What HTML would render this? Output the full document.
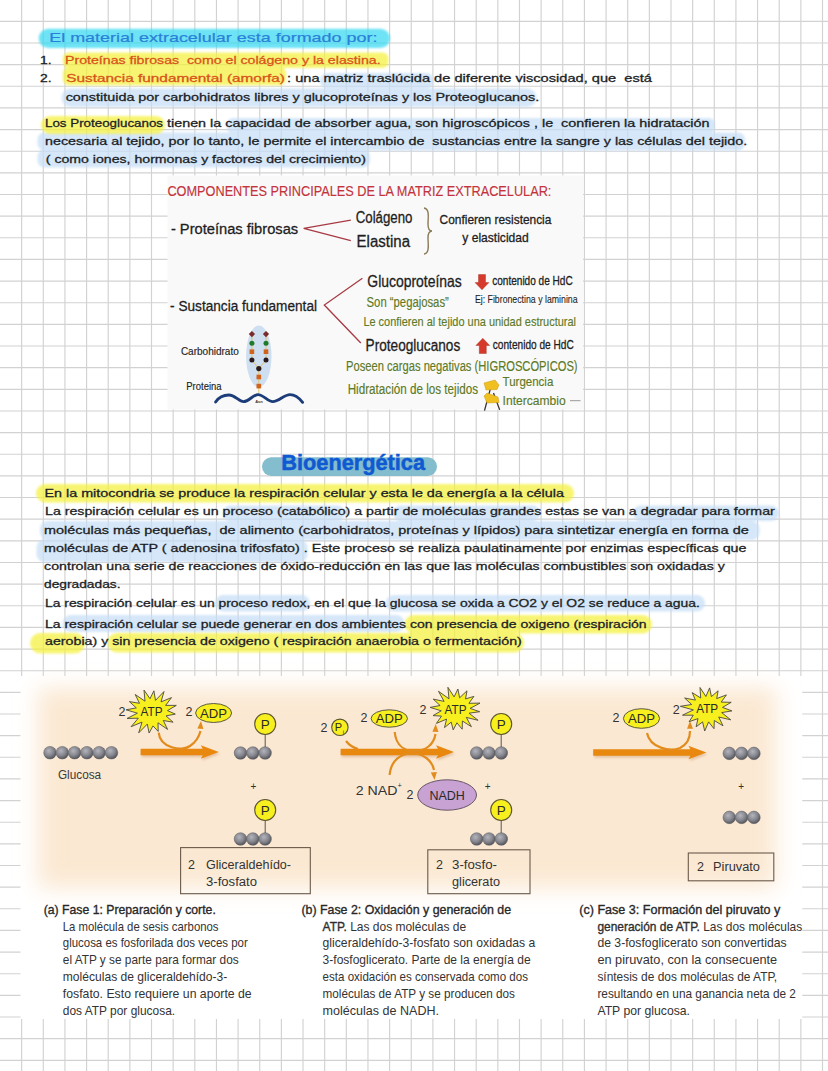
<!DOCTYPE html>
<html><head><meta charset="utf-8"><title>Notes</title>
<style>html,body{margin:0;padding:0;background:#fff;}body{width:828px;height:1071px;overflow:hidden;font-family:"Liberation Sans",sans-serif;}svg{display:block;}</style>
</head><body>
<svg width="828" height="1071" viewBox="0 0 828 1071"><path d="M21.64 0V1071M43.29 0V1071M64.94 0V1071M86.58 0V1071M108.22 0V1071M129.87 0V1071M151.51 0V1071M173.16 0V1071M194.81 0V1071M216.45 0V1071M238.09 0V1071M259.74 0V1071M281.38 0V1071M303.03 0V1071M324.68 0V1071M346.32 0V1071M367.96 0V1071M389.61 0V1071M411.25 0V1071M432.90 0V1071M454.55 0V1071M476.19 0V1071M497.83 0V1071M519.48 0V1071M541.12 0V1071M562.77 0V1071M584.41 0V1071M606.06 0V1071M627.71 0V1071M649.35 0V1071M671.00 0V1071M692.64 0V1071M714.28 0V1071M735.93 0V1071M757.57 0V1071M779.22 0V1071M800.87 0V1071M822.51 0V1071M0 21.34H828M0 42.99H828M0 64.64H828M0 86.28H828M0 107.92H828M0 129.57H828M0 151.21H828M0 172.86H828M0 194.50H828M0 216.15H828M0 237.79H828M0 259.44H828M0 281.08H828M0 302.73H828M0 324.38H828M0 346.02H828M0 367.66H828M0 389.31H828M0 410.95H828M0 432.60H828M0 454.25H828M0 475.89H828M0 497.53H828M0 519.18H828M0 540.83H828M0 562.47H828M0 584.12H828M0 605.76H828M0 627.41H828M0 649.05H828M0 670.70H828M0 692.34H828M0 713.99H828M0 735.63H828M0 757.27H828M0 778.92H828M0 800.57H828M0 822.21H828M0 843.86H828M0 865.50H828M0 887.14H828M0 908.79H828M0 930.44H828M0 952.08H828M0 973.73H828M0 995.37H828M0 1017.01H828M0 1038.66H828M0 1060.31H828" stroke="#d2d2d2" stroke-width="1.15" fill="none"/>
<defs><filter id="hb" x="-5%" y="-50%" width="110%" height="200%"><feGaussianBlur stdDeviation="0.9"/></filter></defs>
<g opacity="0.72" filter="url(#hb)">
<rect x="38.7" y="28.7" width="351.3" height="19.3" rx="9.7" fill="#36d9f2"/>
</g><g opacity="0.72" filter="url(#hb)">
<rect x="320" y="73" width="114.0" height="15.5" rx="7.8" fill="#c6def6"/>
<rect x="61.4" y="88.5" width="475.1" height="18.5" rx="9.2" fill="#c6def6"/>
<rect x="227" y="118" width="488.0" height="15.5" rx="6.0" fill="#c6def6"/>
<rect x="37.5" y="132.5" width="707.5" height="18.0" rx="7.0" fill="#c6def6"/>
<rect x="37.5" y="149.5" width="332.5" height="18.0" rx="7.0" fill="#c6def6"/>
<rect x="222.6" y="505.5" width="122.4" height="15.5" rx="7.8" fill="#c6def6"/>
<rect x="393" y="505.5" width="147.0" height="15.5" rx="7.8" fill="#c6def6"/>
<rect x="633" y="505.5" width="146.0" height="15.5" rx="7.8" fill="#c6def6"/>
<rect x="40" y="521" width="719.6" height="19.0" rx="8.0" fill="#c6def6"/>
<rect x="36.5" y="539.5" width="271.0" height="22.5" rx="8.0" fill="#c6def6"/>
<rect x="215" y="595" width="95.0" height="16.5" rx="8.2" fill="#c6def6"/>
<rect x="385.7" y="595" width="319.3" height="16.5" rx="8.2" fill="#c6def6"/>
<rect x="62.5" y="615" width="342.0" height="17.0" rx="8.5" fill="#c6def6"/>
</g><g opacity="0.72" filter="url(#hb)">
<rect x="62.8" y="52.5" width="325.7" height="15.5" rx="6.0" fill="#f5f13c"/>
<rect x="62.8" y="67" width="223.2" height="18.2" rx="6.0" fill="#f5f13c"/>
<rect x="41" y="116" width="124.0" height="18.0" rx="9.0" fill="#f5f13c"/>
<rect x="36" y="484" width="538.0" height="18.5" rx="9.2" fill="#f5f13c"/>
<rect x="404.5" y="615" width="247.5" height="18.5" rx="9.2" fill="#f5f13c"/>
<rect x="30" y="633" width="55.0" height="20.5" rx="10.2" fill="#f5f13c"/>
<rect x="107.5" y="633" width="416.5" height="19.5" rx="9.8" fill="#f5f13c"/>
</g>
<text x="49.2" y="41.9" textLength="328.3" lengthAdjust="spacingAndGlyphs" font-size="12.8" fill="#2a80d8" stroke="#2a80d8" stroke-width="0.2" font-family="Liberation Sans" style="white-space:pre" >El material extracelular esta formado por:</text>
<text x="40.1" y="64.3" textLength="11.6" lengthAdjust="spacingAndGlyphs" font-size="11" fill="#1b1e26" stroke="#1b1e26" stroke-width="0.3" font-family="Liberation Sans" style="white-space:pre" >1.</text>
<text x="65" y="64.3" textLength="315.6" lengthAdjust="spacingAndGlyphs" font-size="11.5" fill="#d9531a" stroke="#d9531a" stroke-width="0.3" font-family="Liberation Sans" style="white-space:pre" >Proteínas fibrosas  como el colágeno y la elastina.</text>
<text x="40.1" y="82.4" textLength="11.6" lengthAdjust="spacingAndGlyphs" font-size="11" fill="#1b1e26" stroke="#1b1e26" stroke-width="0.3" font-family="Liberation Sans" style="white-space:pre" >2.</text>
<text x="66.2" y="82.4" textLength="218.8" lengthAdjust="spacingAndGlyphs" font-size="11.5" fill="#d9531a" stroke="#d9531a" stroke-width="0.3" font-family="Liberation Sans" style="white-space:pre" >Sustancia fundamental (amorfa)</text>
<text x="287" y="82.4" textLength="365.0" lengthAdjust="spacingAndGlyphs" font-size="11.5" fill="#1b1e26" stroke="#1b1e26" stroke-width="0.3" font-family="Liberation Sans" style="white-space:pre" >: una matriz traslúcida de diferente viscosidad, que  está</text>
<text x="65.7" y="100.7" textLength="473.6" lengthAdjust="spacingAndGlyphs" font-size="11.6" fill="#1b1e26" stroke="#1b1e26" stroke-width="0.3" font-family="Liberation Sans" style="white-space:pre" >constituida por carbohidratos libres y glucoproteínas y los Proteoglucanos.</text>
<text x="45" y="127.3" textLength="118.0" lengthAdjust="spacingAndGlyphs" font-size="11.6" fill="#1b1e26" stroke="#1b1e26" stroke-width="0.3" font-family="Liberation Sans" style="white-space:pre" >Los Proteoglucanos</text>
<text x="167" y="127.3" textLength="542.5" lengthAdjust="spacingAndGlyphs" font-size="11.6" fill="#1b1e26" stroke="#1b1e26" stroke-width="0.3" font-family="Liberation Sans" style="white-space:pre" >tienen la capacidad de absorber agua, son higroscópicos , le  confieren la hidratación</text>
<text x="45" y="144.8" textLength="702.2" lengthAdjust="spacingAndGlyphs" font-size="11.6" fill="#1b1e26" stroke="#1b1e26" stroke-width="0.3" font-family="Liberation Sans" style="white-space:pre" >necesaria al tejido, por lo tanto, le permite el intercambio de  sustancias entre la sangre y las células del tejido.</text>
<text x="45.8" y="162.9" textLength="320.1" lengthAdjust="spacingAndGlyphs" font-size="11.6" fill="#1b1e26" stroke="#1b1e26" stroke-width="0.3" font-family="Liberation Sans" style="white-space:pre" >( como iones, hormonas y factores del crecimiento)</text>
<text x="44.5" y="497.1" textLength="519.4" lengthAdjust="spacingAndGlyphs" font-size="11.6" fill="#1b1e26" stroke="#1b1e26" stroke-width="0.3" font-family="Liberation Sans" style="white-space:pre" >En la mitocondria se produce la respiración celular y esta le da energía a la célula</text>
<text x="45" y="514.9" textLength="729.8" lengthAdjust="spacingAndGlyphs" font-size="11.6" fill="#1b1e26" stroke="#1b1e26" stroke-width="0.3" font-family="Liberation Sans" style="white-space:pre" >La respiración celular es un proceso (catabólico) a partir de moléculas grandes estas se van a degradar para formar</text>
<text x="44" y="533.6" textLength="704.7" lengthAdjust="spacingAndGlyphs" font-size="11.6" fill="#1b1e26" stroke="#1b1e26" stroke-width="0.3" font-family="Liberation Sans" style="white-space:pre" >moléculas más pequeñas,  de alimento (carbohidratos, proteínas y lípidos) para sintetizar energía en forma de</text>
<text x="44.1" y="552" textLength="702.4" lengthAdjust="spacingAndGlyphs" font-size="11.6" fill="#1b1e26" stroke="#1b1e26" stroke-width="0.3" font-family="Liberation Sans" style="white-space:pre" >moléculas de ATP ( adenosina trifosfato) . Este proceso se realiza paulatinamente por enzimas específicas que</text>
<text x="44.1" y="570.2" textLength="680.7" lengthAdjust="spacingAndGlyphs" font-size="11.6" fill="#1b1e26" stroke="#1b1e26" stroke-width="0.3" font-family="Liberation Sans" style="white-space:pre" >controlan una serie de reacciones de óxido-reducción en las que las moléculas combustibles son oxidadas y</text>
<text x="44" y="587.7" textLength="76.5" lengthAdjust="spacingAndGlyphs" font-size="11.6" fill="#1b1e26" stroke="#1b1e26" stroke-width="0.3" font-family="Liberation Sans" style="white-space:pre" >degradadas.</text>
<text x="45" y="607.3" textLength="654.8" lengthAdjust="spacingAndGlyphs" font-size="11.6" fill="#1b1e26" stroke="#1b1e26" stroke-width="0.3" font-family="Liberation Sans" style="white-space:pre" >La respiración celular es un proceso redox, en el que la glucosa se oxida a CO2 y el O2 se reduce a agua.</text>
<text x="45" y="627.7" textLength="601.6" lengthAdjust="spacingAndGlyphs" font-size="11.6" fill="#1b1e26" stroke="#1b1e26" stroke-width="0.3" font-family="Liberation Sans" style="white-space:pre" >La respiración celular se puede generar en dos ambientes con presencia de oxigeno (respiración</text>
<text x="45" y="645.3" textLength="476.8" lengthAdjust="spacingAndGlyphs" font-size="11.6" fill="#1b1e26" stroke="#1b1e26" stroke-width="0.3" font-family="Liberation Sans" style="white-space:pre" >aerobia) y sin presencia de oxigeno ( respiración anaerobia o fermentación)</text>
<rect x="262" y="457.3" width="175" height="18.8" rx="9.4" fill="#7db9ca" opacity="0.95"/>
<text x="281.3" y="469.6" textLength="143.7" lengthAdjust="spacingAndGlyphs" font-size="22.5" fill="#0f5ad2" stroke="#0f5ad2" stroke-width="0.5" font-family="Liberation Sans" style="white-space:pre" font-weight="bold">Bioenergética</text>
<rect x="167.5" y="175.5" width="415.5" height="234" fill="#f9f9f9"/>
<text x="167.4" y="196" textLength="384.0" lengthAdjust="spacingAndGlyphs" font-size="15.3" fill="#c4333b" stroke="#c4333b" stroke-width="0.15" font-family="Liberation Sans" >COMPONENTES PRINCIPALES DE LA MATRIZ EXTRACELULAR:</text>
<text x="170.9" y="234" textLength="127.3" lengthAdjust="spacingAndGlyphs" font-size="15.5" fill="#1e1e1e" stroke="#1e1e1e" stroke-width="0.3" font-family="Liberation Sans" >- Proteínas fibrosas</text>
<path d="M350.8,220.2 L303.7,228.4 L350.8,240.7" fill="none" stroke="#a83a44" stroke-width="1.3"/>
<text x="355.7" y="222.8" textLength="56.8" lengthAdjust="spacingAndGlyphs" font-size="16" fill="#1e1e1e" stroke="#1e1e1e" stroke-width="0.3" font-family="Liberation Sans" >Colágeno</text>
<text x="356.6" y="247" textLength="53.4" lengthAdjust="spacingAndGlyphs" font-size="16" fill="#1e1e1e" stroke="#1e1e1e" stroke-width="0.3" font-family="Liberation Sans" >Elastina</text>
<path d="M424,208 C430,209 428,218 428,224 C428,229 429,231 432,231 C429,231 428,233 428,238 C428,244 430,253 424,254" fill="none" stroke="#8a7a55" stroke-width="1.4"/>
<text x="439.6" y="223.7" textLength="111.8" lengthAdjust="spacingAndGlyphs" font-size="13" fill="#1e1e1e" stroke="#1e1e1e" stroke-width="0.3" font-family="Liberation Sans" >Confieren resistencia</text>
<text x="462.3" y="242.4" textLength="66.4" lengthAdjust="spacingAndGlyphs" font-size="13" fill="#1e1e1e" stroke="#1e1e1e" stroke-width="0.3" font-family="Liberation Sans" >y elasticidad</text>
<text x="170.1" y="311.2" textLength="146.9" lengthAdjust="spacingAndGlyphs" font-size="15.5" fill="#1e1e1e" stroke="#1e1e1e" stroke-width="0.3" font-family="Liberation Sans" >- Sustancia fundamental</text>
<path d="M362.4,278.3 L324.3,305 L360.8,343" fill="none" stroke="#a83a44" stroke-width="1.3"/>
<text x="367.3" y="286.5" textLength="94.5" lengthAdjust="spacingAndGlyphs" font-size="16.5" fill="#1e1e1e" stroke="#1e1e1e" stroke-width="0.3" font-family="Liberation Sans" >Glucoproteínas</text>
<path d="M478.5,274.6 h7 v8 h3.4 l-6.9,7.2 l-6.9,-7.2 h3.4z" fill="#d63a2c" stroke="#a02818" stroke-width="0.4"/>
<text x="492.2" y="284.8" textLength="80.5" lengthAdjust="spacingAndGlyphs" font-size="12.5" fill="#1e1e1e" stroke="#1e1e1e" stroke-width="0.3" font-family="Liberation Sans" >contenido de HdC</text>
<text x="366.6" y="307" textLength="82.2" lengthAdjust="spacingAndGlyphs" font-size="14" fill="#5d7a26" stroke="#5d7a26" stroke-width="0.15" font-family="Liberation Sans" >Son “pegajosas”</text>
<text x="474.9" y="302.8" textLength="102.7" lengthAdjust="spacingAndGlyphs" font-size="10.5" fill="#1e1e1e" stroke="#1e1e1e" stroke-width="0.1" font-family="Liberation Sans" >Ej: Fibronectina y laminina</text>
<text x="363.4" y="325.6" textLength="212.6" lengthAdjust="spacingAndGlyphs" font-size="13.5" fill="#5d7a26" stroke="#5d7a26" stroke-width="0.15" font-family="Liberation Sans" >Le confieren al tejido una unidad estructural</text>
<text x="365.6" y="351.2" textLength="94.6" lengthAdjust="spacingAndGlyphs" font-size="16" fill="#1e1e1e" stroke="#1e1e1e" stroke-width="0.3" font-family="Liberation Sans" >Proteoglucanos</text>
<path d="M479.3,353.5 h7 v-8 h3.4 l-6.9,-7.2 l-6.9,7.2 h3.4z" fill="#d63a2c" stroke="#a02818" stroke-width="0.4"/>
<text x="492.8" y="348.9" textLength="80.9" lengthAdjust="spacingAndGlyphs" font-size="12.5" fill="#1e1e1e" stroke="#1e1e1e" stroke-width="0.3" font-family="Liberation Sans" >contenido de HdC</text>
<text x="346" y="370.8" textLength="231.6" lengthAdjust="spacingAndGlyphs" font-size="14" fill="#5d7a26" stroke="#5d7a26" stroke-width="0.15" font-family="Liberation Sans" >Poseen cargas negativas (HIGROSCÓPICOS)</text>
<text x="347.7" y="393.6" textLength="130.4" lengthAdjust="spacingAndGlyphs" font-size="14" fill="#5d7a26" stroke="#5d7a26" stroke-width="0.15" font-family="Liberation Sans" >Hidratación de los tejidos</text>
<text x="502.6" y="386" textLength="50.7" lengthAdjust="spacingAndGlyphs" font-size="13" fill="#5d7a26" stroke="#5d7a26" stroke-width="0.15" font-family="Liberation Sans" >Turgencia</text>
<text x="502.6" y="404.8" textLength="63.1" lengthAdjust="spacingAndGlyphs" font-size="13" fill="#5d7a26" stroke="#5d7a26" stroke-width="0.15" font-family="Liberation Sans" >Intercambio</text>
<line x1="570" y1="400.7" x2="580.5" y2="400.7" stroke="#999" stroke-width="1"/>
<path d="M490.3,389 L484.5,410.6 M493.5,393 L499.7,409.9" stroke="#3a3030" stroke-width="1.3" fill="none"/>
<path d="M484,383 L495,380 L499,385 L497,389.5 L486,390 Z" fill="#f0c020" stroke="#c89a10" stroke-width="0.5"/>
<path d="M484,396 L487,393 L498,397 L499,402.5 L487,403 Z" fill="#f0c020" stroke="#c89a10" stroke-width="0.5"/>
<ellipse cx="258.8" cy="356.2" rx="12.7" ry="30.8" fill="#cddff1"/>
<path d="M251.9,334 V360 L258.8,368.6 L266,360 V334 M258.8,368.6 V393" stroke="#e2c060" stroke-width="0.9" fill="none"/>
<rect x="249.70000000000002" y="331.90000000000003" width="4.4" height="4.4" fill="#7a2a2a" transform="rotate(45 251.9 334.1)"/>
<circle cx="251.9" cy="343.2" r="2.5" fill="#1f7a2a"/>
<rect x="249.6" y="349.4" width="4.6" height="4.6" fill="#d0641c"/>
<circle cx="251.9" cy="359.9" r="2.5" fill="#2a1a1a"/>
<rect x="263.8" y="331.90000000000003" width="4.4" height="4.4" fill="#7a2a2a" transform="rotate(45 266 334.1)"/>
<circle cx="266" cy="343.2" r="2.5" fill="#1f7a2a"/>
<rect x="263.7" y="349.4" width="4.6" height="4.6" fill="#d0641c"/>
<circle cx="266" cy="359.9" r="2.5" fill="#2a1a1a"/>
<circle cx="258.8" cy="368.6" r="2.6" fill="#2a1a1a"/>
<rect x="256.5" y="374.7" width="4.6" height="4.6" fill="#d0641c"/><rect x="256.5" y="383.8" width="4.6" height="4.6" fill="#d0641c"/>
<path d="M215.6,402 C219,397 224,395 228.9,395 C235,395 239,401.6 243.5,401.6 C249,401.6 253,394.6 258.1,394.6 C263,394.6 268,401.6 272.7,401.6 C279,401.6 284,394.6 290,394.6 C296,394.6 300,399 302.6,402.3" fill="none" stroke="#1c3d7a" stroke-width="2.9" stroke-linecap="round"/>
<text x="259" y="402.5" font-size="4" text-anchor="middle" fill="#333" font-family="Liberation Sans" font-weight="bold">Asn</text>
<text x="180.9" y="355.3" textLength="57.9" lengthAdjust="spacingAndGlyphs" font-size="10.5" fill="#1e1e1e" stroke="#1e1e1e" stroke-width="0.15" font-family="Liberation Sans" >Carbohidrato</text>
<text x="186.3" y="389.7" textLength="35.3" lengthAdjust="spacingAndGlyphs" font-size="10.5" fill="#1e1e1e" stroke="#1e1e1e" stroke-width="0.15" font-family="Liberation Sans" >Proteina</text>
<rect x="20.5" y="676" width="781.8" height="343" fill="#ffffff"/>
<defs><filter id="blr" x="-10%" y="-20%" width="120%" height="140%"><feGaussianBlur stdDeviation="11"/></filter><radialGradient id="ball" cx="0.4" cy="0.35" r="0.65"><stop offset="0" stop-color="#b4b4bc"/><stop offset="0.6" stop-color="#85858d"/><stop offset="1" stop-color="#55555c"/></radialGradient><filter id="shd" x="-5%" y="-50%" width="110%" height="200%"><feGaussianBlur stdDeviation="1.2"/></filter></defs>
<rect x="38" y="688" width="738" height="200" fill="#fbe8d2" filter="url(#blr)"/>
<circle cx="50.0" cy="752.7" r="6.3" fill="url(#ball)" stroke="#5a5a60" stroke-width="0.5"/>
<circle cx="62.3" cy="752.7" r="6.3" fill="url(#ball)" stroke="#5a5a60" stroke-width="0.5"/>
<circle cx="74.6" cy="752.7" r="6.3" fill="url(#ball)" stroke="#5a5a60" stroke-width="0.5"/>
<circle cx="86.9" cy="752.7" r="6.3" fill="url(#ball)" stroke="#5a5a60" stroke-width="0.5"/>
<circle cx="99.2" cy="752.7" r="6.3" fill="url(#ball)" stroke="#5a5a60" stroke-width="0.5"/>
<circle cx="111.5" cy="752.7" r="6.3" fill="url(#ball)" stroke="#5a5a60" stroke-width="0.5"/>
<text x="57.9" y="779" textLength="43.3" lengthAdjust="spacingAndGlyphs" font-size="12" fill="#3a3a3a" font-family="Liberation Sans" >Glucosa</text>
<path d="M140.6,748.8 L202.8,748.8 L200.8,745.2 L218.8,752 L200.8,758.8 L202.8,755.2 L140.6,755.2Z" fill="#c08050" opacity="0.35" transform="translate(1,2)" filter="url(#shd)"/>
<path d="M140.6,748.8 L202.8,748.8 L200.8,745.2 L218.8,752 L200.8,758.8 L202.8,755.2 L140.6,755.2Z" fill="#e8880f"/>
<path d="M158.7,732.6 C160,748 182,752 190,746 C196,742 199,737 200.5,731" fill="none" stroke="#e38c1e" stroke-width="2.2"/>
<polygon points="201.0,721.0 203.4,729.0 197.3,728.5" fill="#e38c1e"/>
<text x="118.6" y="715.8" font-size="12.5" fill="#333" font-family="Liberation Sans" >2</text>
<polygon points="175.3,714.1 166.0,715.9 173.1,722.2 163.3,720.5 167.6,729.4 158.0,722.8 158.2,731.4 153.0,725.9 149.1,733.0 147.3,724.1 138.7,732.9 142.0,722.1 131.1,726.7 138.3,718.2 127.0,718.5 137.4,713.2 126.1,709.8 136.3,707.9 129.4,701.6 139.5,703.3 135.2,694.5 145.0,701.2 144.0,690.1 150.0,698.7 153.9,690.8 155.5,700.4 164.0,691.5 161.0,701.9 171.5,697.6 165.6,705.4 176.3,705.4 167.5,710.6" fill="#f7ef1e" stroke="#4a4a40" stroke-width="0.9" stroke-linejoin="miter"/>
<text x="140.5" y="716.3" textLength="22.0" lengthAdjust="spacingAndGlyphs" font-size="12.5" fill="#2a2a2a" font-family="Liberation Sans" >ATP</text>
<text x="185.4" y="715.8" font-size="12.5" fill="#333" font-family="Liberation Sans" >2</text>
<ellipse cx="213.6" cy="713" rx="18" ry="9.5" fill="#f7ef1e" stroke="#4a4a40" stroke-width="0.9"/>
<text x="200.1" y="717.5" textLength="27.0" lengthAdjust="spacingAndGlyphs" font-size="12.5" fill="#2a2a2a" font-family="Liberation Sans" >ADP</text>
<line x1="265.2" y1="734" x2="265.2" y2="747" stroke="#555" stroke-width="1"/>
<circle cx="265.2" cy="724" r="10.5" fill="#f7ef1e" stroke="#5a5530" stroke-width="1.1"/>
<text x="265.2" y="728.8" text-anchor="middle" font-size="13.5" fill="#2a2a2a" font-family="Liberation Sans" >P</text>
<circle cx="240.5" cy="753" r="6.3" fill="url(#ball)" stroke="#5a5a60" stroke-width="0.5"/>
<circle cx="252.8" cy="753" r="6.3" fill="url(#ball)" stroke="#5a5a60" stroke-width="0.5"/>
<circle cx="265.1" cy="753" r="6.3" fill="url(#ball)" stroke="#5a5a60" stroke-width="0.5"/>
<text x="253.3" y="789.5" text-anchor="middle" font-size="10" fill="#333" font-family="Liberation Sans" >+</text>
<line x1="265.2" y1="820" x2="265.2" y2="833" stroke="#555" stroke-width="1"/>
<circle cx="265.2" cy="810" r="10.5" fill="#f7ef1e" stroke="#5a5530" stroke-width="1.1"/>
<text x="265.2" y="814.8" text-anchor="middle" font-size="13.5" fill="#2a2a2a" font-family="Liberation Sans" >P</text>
<circle cx="240.5" cy="839" r="6.3" fill="url(#ball)" stroke="#5a5a60" stroke-width="0.5"/>
<circle cx="252.8" cy="839" r="6.3" fill="url(#ball)" stroke="#5a5a60" stroke-width="0.5"/>
<circle cx="265.1" cy="839" r="6.3" fill="url(#ball)" stroke="#5a5a60" stroke-width="0.5"/>
<rect x="180.6" y="847.6" width="129.70000000000002" height="46.10000000000002" fill="none" stroke="#6b5a4a" stroke-width="1.1"/>
<text x="188" y="868.5" font-size="12.5" fill="#333" font-family="Liberation Sans" >2</text>
<text x="206" y="868.5" textLength="85.0" lengthAdjust="spacingAndGlyphs" font-size="12.5" fill="#333" font-family="Liberation Sans" >Gliceraldehído-</text>
<text x="206" y="885.5" textLength="51.0" lengthAdjust="spacingAndGlyphs" font-size="12.5" fill="#333" font-family="Liberation Sans" >3-fosfato</text>
<path d="M340.6,748.8 L438,748.8 L436,745.2 L454,752 L436,758.8 L438,755.2 L340.6,755.2Z" fill="#c08050" opacity="0.35" transform="translate(1,2)" filter="url(#shd)"/>
<path d="M340.6,748.8 L438,748.8 L436,745.2 L454,752 L436,758.8 L438,755.2 L340.6,755.2Z" fill="#e8880f"/>
<path d="M346,741 C349,745 353,747.5 358,749" fill="none" stroke="#e38c1e" stroke-width="2.2"/>
<path d="M394.7,732 C396,746 405,751 415,751 C426,751 434,744 435.5,734" fill="none" stroke="#e38c1e" stroke-width="2.2"/>
<polygon points="435.7,724.0 438.5,731.9 432.4,731.7" fill="#e38c1e"/>
<path d="M389.6,775 C391,760 401,753.5 412,753.5 C423,753.5 432,760 434,770" fill="none" stroke="#e38c1e" stroke-width="2.2"/>
<polygon points="434.5,780.0 430.8,772.5 436.9,772.0" fill="#e38c1e"/>
<text x="320.5" y="731.5" font-size="12.5" fill="#333" font-family="Liberation Sans" >2</text>
<circle cx="339.9" cy="727.3" r="8.2" fill="#f7ef1e" stroke="#5a5530" stroke-width="1.1"/>
<text x="338.4" y="731.3" text-anchor="middle" font-size="11" fill="#2a2a2a" font-family="Liberation Sans" >P</text>
<text x="343.4" y="734.3" text-anchor="middle" font-size="6" fill="#2a2a2a" font-family="Liberation Sans" >i</text>
<text x="360.5" y="721.5" font-size="12.5" fill="#333" font-family="Liberation Sans" >2</text>
<ellipse cx="389.3" cy="718.5" rx="18.2" ry="8.7" fill="#f7ef1e" stroke="#4a4a40" stroke-width="0.9"/>
<text x="375.8" y="723.0" textLength="27.0" lengthAdjust="spacingAndGlyphs" font-size="12.5" fill="#2a2a2a" font-family="Liberation Sans" >ADP</text>
<text x="419.6" y="714" font-size="12.5" fill="#333" font-family="Liberation Sans" >2</text>
<polygon points="479.7,711.7 469.0,713.2 478.1,720.3 466.3,717.4 471.4,726.7 462.4,721.0 462.2,729.2 456.9,722.8 453.2,729.9 451.2,722.1 444.5,727.6 446.6,719.1 436.4,723.4 441.5,716.1 433.0,715.6 441.3,710.8 430.1,707.4 440.1,705.5 433.2,699.1 444.1,701.4 438.5,691.3 449.0,698.8 447.9,687.3 454.1,696.9 457.9,689.0 459.6,697.8 467.0,690.8 465.5,698.9 473.9,696.4 468.9,703.3 480.0,703.1 470.1,708.4" fill="#f7ef1e" stroke="#4a4a40" stroke-width="0.9" stroke-linejoin="miter"/>
<text x="444.5" y="713.9" textLength="22.0" lengthAdjust="spacingAndGlyphs" font-size="12.5" fill="#2a2a2a" font-family="Liberation Sans" >ATP</text>
<text x="355.8" y="794.5" textLength="41.7" lengthAdjust="spacingAndGlyphs" font-size="12.5" fill="#333" font-family="Liberation Sans" >2 NAD</text>
<text x="397.6" y="788" font-size="7.5" fill="#333" font-family="Liberation Sans" >+</text>
<text x="406.5" y="799" font-size="12.5" fill="#333" font-family="Liberation Sans" >2</text>
<ellipse cx="447.1" cy="795" rx="29.4" ry="15.2" fill="#c7a2d2" stroke="#5a4a5a" stroke-width="0.9"/>
<text x="447.1" y="799.5" text-anchor="middle" font-size="12.5" fill="#2a2a2a" font-family="Liberation Sans" >NADH</text>
<text x="487.7" y="790" text-anchor="middle" font-size="10" fill="#333" font-family="Liberation Sans" >+</text>
<line x1="501.2" y1="734" x2="501.2" y2="747" stroke="#555" stroke-width="1"/>
<circle cx="501.2" cy="724" r="10.5" fill="#f7ef1e" stroke="#5a5530" stroke-width="1.1"/>
<text x="501.2" y="728.8" text-anchor="middle" font-size="13.5" fill="#2a2a2a" font-family="Liberation Sans" >P</text>
<circle cx="476.7" cy="753" r="6.3" fill="url(#ball)" stroke="#5a5a60" stroke-width="0.5"/>
<circle cx="489.0" cy="753" r="6.3" fill="url(#ball)" stroke="#5a5a60" stroke-width="0.5"/>
<circle cx="501.3" cy="753" r="6.3" fill="url(#ball)" stroke="#5a5a60" stroke-width="0.5"/>
<line x1="501.2" y1="820" x2="501.2" y2="833" stroke="#555" stroke-width="1"/>
<circle cx="501.2" cy="810" r="10.5" fill="#f7ef1e" stroke="#5a5530" stroke-width="1.1"/>
<text x="501.2" y="814.8" text-anchor="middle" font-size="13.5" fill="#2a2a2a" font-family="Liberation Sans" >P</text>
<circle cx="476.7" cy="839" r="6.3" fill="url(#ball)" stroke="#5a5a60" stroke-width="0.5"/>
<circle cx="489.0" cy="839" r="6.3" fill="url(#ball)" stroke="#5a5a60" stroke-width="0.5"/>
<circle cx="501.3" cy="839" r="6.3" fill="url(#ball)" stroke="#5a5a60" stroke-width="0.5"/>
<rect x="427.8" y="849.8" width="102.19999999999999" height="43.90000000000009" fill="none" stroke="#6b5a4a" stroke-width="1.1"/>
<text x="436" y="868.5" font-size="12.5" fill="#333" font-family="Liberation Sans" >2</text>
<text x="452" y="868.5" textLength="45.0" lengthAdjust="spacingAndGlyphs" font-size="12.5" fill="#333" font-family="Liberation Sans" >3-fosfo-</text>
<text x="452" y="885.5" textLength="48.0" lengthAdjust="spacingAndGlyphs" font-size="12.5" fill="#333" font-family="Liberation Sans" >glicerato</text>
<path d="M593.2,749.3 L690.4,749.3 L688.4,745.7 L706.4,752.5 L688.4,759.3 L690.4,755.7 L593.2,755.7Z" fill="#c08050" opacity="0.35" transform="translate(1,2)" filter="url(#shd)"/>
<path d="M593.2,749.3 L690.4,749.3 L688.4,745.7 L706.4,752.5 L688.4,759.3 L690.4,755.7 L593.2,755.7Z" fill="#e8880f"/>
<path d="M647,733 C650,748 670,752 680,748 C688,744 690,738 690,731" fill="none" stroke="#e38c1e" stroke-width="2.2"/>
<polygon points="690.0,721.0 693.0,728.8 687.0,728.8" fill="#e38c1e"/>
<text x="612.5" y="722" font-size="12.5" fill="#333" font-family="Liberation Sans" >2</text>
<ellipse cx="641.5" cy="718.5" rx="18.1" ry="9.8" fill="#f7ef1e" stroke="#4a4a40" stroke-width="0.9"/>
<text x="628.0" y="723.0" textLength="27.0" lengthAdjust="spacingAndGlyphs" font-size="12.5" fill="#2a2a2a" font-family="Liberation Sans" >ADP</text>
<text x="672.8" y="713.5" font-size="12.5" fill="#333" font-family="Liberation Sans" >2</text>
<polygon points="731.9,710.9 721.7,712.6 730.7,719.8 718.7,717.0 723.0,725.8 714.3,720.5 714.0,728.7 708.6,721.9 704.7,731.0 702.6,721.9 696.1,726.8 698.0,718.6 689.1,721.7 693.3,715.2 682.5,715.2 693.4,709.9 680.4,706.3 691.7,704.5 684.6,698.0 695.4,700.1 692.2,692.6 700.7,698.0 700.0,687.5 705.9,696.5 709.6,687.9 711.4,696.6 718.1,690.8 716.7,698.6 726.4,694.9 721.2,702.1 731.2,702.3 722.5,707.4" fill="#f7ef1e" stroke="#4a4a40" stroke-width="0.9" stroke-linejoin="miter"/>
<text x="696.2" y="713.0" textLength="22.0" lengthAdjust="spacingAndGlyphs" font-size="12.5" fill="#2a2a2a" font-family="Liberation Sans" >ATP</text>
<circle cx="729.3" cy="753.4" r="6.3" fill="url(#ball)" stroke="#5a5a60" stroke-width="0.5"/>
<circle cx="741.6" cy="753.4" r="6.3" fill="url(#ball)" stroke="#5a5a60" stroke-width="0.5"/>
<circle cx="753.9" cy="753.4" r="6.3" fill="url(#ball)" stroke="#5a5a60" stroke-width="0.5"/>
<text x="741.2" y="790" text-anchor="middle" font-size="10" fill="#333" font-family="Liberation Sans" >+</text>
<circle cx="729.3" cy="817.4" r="6.3" fill="url(#ball)" stroke="#5a5a60" stroke-width="0.5"/>
<circle cx="741.6" cy="817.4" r="6.3" fill="url(#ball)" stroke="#5a5a60" stroke-width="0.5"/>
<circle cx="753.9" cy="817.4" r="6.3" fill="url(#ball)" stroke="#5a5a60" stroke-width="0.5"/>
<rect x="688.3" y="853" width="85.5" height="27.799999999999955" fill="none" stroke="#6b5a4a" stroke-width="1.1"/>
<text x="697" y="871" font-size="12.5" fill="#333" font-family="Liberation Sans" >2</text>
<text x="713" y="871" textLength="47.0" lengthAdjust="spacingAndGlyphs" font-size="12.5" fill="#333" font-family="Liberation Sans" >Piruvato</text>
<text x="43.7" y="913.9" textLength="172.1" lengthAdjust="spacingAndGlyphs" font-size="12.6" fill="#262626" font-family="Liberation Sans" stroke="#2a2a2a" stroke-width="0.35">(a) Fase 1:  Preparación y corte.</text>
<text x="62.8" y="930.8" textLength="155.7" lengthAdjust="spacingAndGlyphs" font-size="12.6" fill="#333333" font-family="Liberation Sans" >La molécula de sesis carbonos</text>
<text x="62.8" y="947.3" textLength="185.0" lengthAdjust="spacingAndGlyphs" font-size="12.6" fill="#333333" font-family="Liberation Sans" >glucosa es fosforilada dos veces por</text>
<text x="62.8" y="964" textLength="175.9" lengthAdjust="spacingAndGlyphs" font-size="12.6" fill="#333333" font-family="Liberation Sans" >el ATP y se parte para formar dos</text>
<text x="62.8" y="980.7" textLength="164.5" lengthAdjust="spacingAndGlyphs" font-size="12.6" fill="#333333" font-family="Liberation Sans" >moléculas de gliceraldehído-3-</text>
<text x="62.8" y="997.8" textLength="188.9" lengthAdjust="spacingAndGlyphs" font-size="12.6" fill="#333333" font-family="Liberation Sans" >fosfato. Esto requiere un aporte de</text>
<text x="62.8" y="1014.5" textLength="112.3" lengthAdjust="spacingAndGlyphs" font-size="12.6" fill="#333333" font-family="Liberation Sans" >dos ATP por glucosa.</text>
<text x="301.4" y="913.9" textLength="209.7" lengthAdjust="spacingAndGlyphs" font-size="12.6" fill="#262626" font-family="Liberation Sans" stroke="#2a2a2a" stroke-width="0.35">(b) Fase 2:  Oxidación y generación de</text>
<text x="322.6" y="930.8" textLength="143.5" lengthAdjust="spacingAndGlyphs" font-size="12.6" fill="#333" font-family="Liberation Sans"><tspan stroke="#2a2a2a" stroke-width="0.35">ATP.</tspan> Las dos moléculas de</text>
<text x="322.6" y="947.3" textLength="212.6" lengthAdjust="spacingAndGlyphs" font-size="12.6" fill="#333333" font-family="Liberation Sans" >gliceraldehído-3-fosfato son oxidadas a</text>
<text x="322.6" y="964" textLength="208.0" lengthAdjust="spacingAndGlyphs" font-size="12.6" fill="#333333" font-family="Liberation Sans" >3-fosfoglicerato. Parte de la energía de</text>
<text x="322.6" y="980.7" textLength="205.4" lengthAdjust="spacingAndGlyphs" font-size="12.6" fill="#333333" font-family="Liberation Sans" >esta oxidación es conservada como dos</text>
<text x="322.6" y="997.8" textLength="192.4" lengthAdjust="spacingAndGlyphs" font-size="12.6" fill="#333333" font-family="Liberation Sans" >moléculas de ATP y se producen dos</text>
<text x="322.6" y="1014.5" textLength="116.4" lengthAdjust="spacingAndGlyphs" font-size="12.6" fill="#333333" font-family="Liberation Sans" >moléculas de NADH.</text>
<text x="579.3" y="913.9" textLength="201.0" lengthAdjust="spacingAndGlyphs" font-size="12.6" fill="#262626" font-family="Liberation Sans" stroke="#2a2a2a" stroke-width="0.35">(c)  Fase 3:  Formación del piruvato y</text>
<text x="597.4" y="930.8" textLength="204.8" lengthAdjust="spacingAndGlyphs" font-size="12.6" fill="#333" font-family="Liberation Sans"><tspan stroke="#2a2a2a" stroke-width="0.35">generación de ATP.</tspan> Las dos moléculas</text>
<text x="597.4" y="947.3" textLength="189.2" lengthAdjust="spacingAndGlyphs" font-size="12.6" fill="#333333" font-family="Liberation Sans" >de 3-fosfoglicerato son convertidas</text>
<text x="597.4" y="964" textLength="179.8" lengthAdjust="spacingAndGlyphs" font-size="12.6" fill="#333333" font-family="Liberation Sans" >en piruvato, con la consecuente</text>
<text x="597.4" y="980.7" textLength="179.8" lengthAdjust="spacingAndGlyphs" font-size="12.6" fill="#333333" font-family="Liberation Sans" >síntesis de dos moléculas de ATP,</text>
<text x="597.4" y="997.8" textLength="198.5" lengthAdjust="spacingAndGlyphs" font-size="12.6" fill="#333333" font-family="Liberation Sans" >resultando en una ganancia neta de 2</text>
<text x="597.4" y="1014.5" textLength="92.6" lengthAdjust="spacingAndGlyphs" font-size="12.6" fill="#333333" font-family="Liberation Sans" >ATP por glucosa.</text></svg>
</body></html>
